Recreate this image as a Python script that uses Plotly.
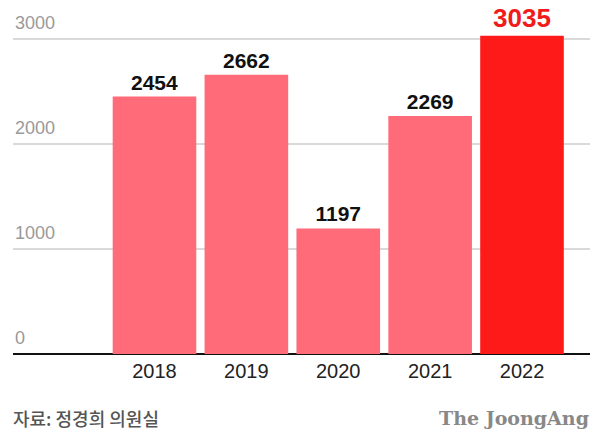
import plotly.graph_objects as go

# Yearly counts
years = ["2018", "2019", "2020", "2021", "2022"]
counts = [2454, 2662, 1197, 2269, 3035]

# Highlight the latest year
bar_colors = ["#ff6b78", "#ff6b78", "#ff6b78", "#ff6b78", "#ff1a1a"]
label_colors = ["#111111", "#111111", "#111111", "#111111", "#f01c1c"]
label_sizes = [21, 21, 21, 21, 26]

y_ticks = [0, 1000, 2000, 3000]
y_tick_labels = ["0", "1000", "2000", "3000"]

fig = go.Figure()
fig.add_trace(go.Bar(
    x=years,
    y=counts,
    width=0.91,
    marker=dict(color=bar_colors, line=dict(width=0)),
    text=[str(v) for v in counts],
    textposition="outside",
    constraintext="none",
    cliponaxis=False,
    textfont=dict(family="Liberation Sans", size=label_sizes, color=label_colors, weight="bold"),
    hoverinfo="skip",
))

fig.update_layout(
    width=595,
    height=436,
    margin=dict(l=13, r=5, t=0, b=82),
    paper_bgcolor="white",
    plot_bgcolor="white",
    showlegend=False,
    bargap=0.09,
    font=dict(family="Liberation Sans"),
)

fig.update_xaxes(
    type="category",
    range=[-1.54, 4.74],
    showgrid=False,
    showline=False,
    ticks="",
    tickfont=dict(size=20, color="#222222"),
    ticklabelstandoff=3,
)

fig.update_yaxes(
    range=[0, 3375],
    tickvals=y_ticks,
    showticklabels=False,
    showgrid=True,
    gridcolor="#d9d9d9",
    gridwidth=1.5,
    zeroline=True,
    zerolinecolor="#111111",
    zerolinewidth=1.5,
    showline=False,
    ticks="",
)

# Value labels sit just above each gridline at the left edge
for v, t in zip(y_ticks, y_tick_labels):
    fig.add_annotation(
        text=t,
        xref="paper", yref="y",
        x=0, y=v,
        xanchor="left", yanchor="bottom",
        yshift=4,
        showarrow=False,
        font=dict(family="Liberation Sans", size=18, color="#999999"),
    )

fig.add_annotation(
    text="자료: 정경희 의원실",
    xref="paper", yref="paper",
    x=-0.003, y=-0.18,
    xanchor="left", yanchor="middle",
    showarrow=False,
    font=dict(family="Noto Sans CJK KR", size=18, color="#555555", weight=500),
)
fig.add_annotation(
    text="<b>The JoongAng</b>",
    xref="paper", yref="paper",
    x=1.002, y=-0.18,
    xanchor="right", yanchor="middle",
    showarrow=False,
    font=dict(family="DejaVu Serif", size=19, color="#888888"),
)

fig.write_html("out.html")
